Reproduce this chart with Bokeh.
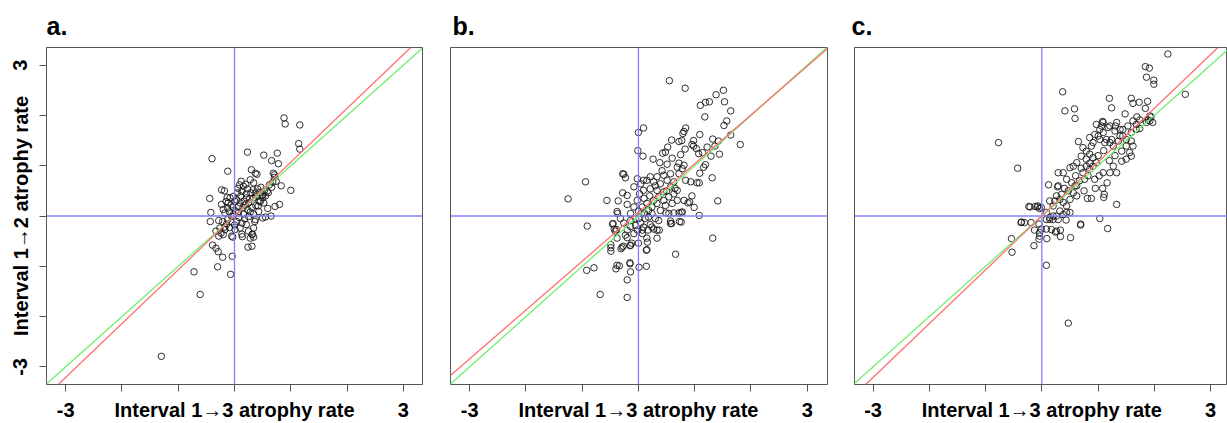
from bokeh.plotting import figure
from bokeh.layouts import row
from bokeh.models import FixedTicker, Span, Slope, AllLabels
from bokeh.embed import file_html
from bokeh.resources import INLINE

# ---------------- data ----------------
panel_titles = ["a.", "b.", "c."]
x_axis_label = "Interval 1\u21923 atrophy rate"
y_axis_label = "Interval 1\u21922 atrophy rate"
tick_values = [-3, -2, -1, 0, 1, 2, 3]

a_x = [0.88, 0.90, 1.16, 1.14, 1.16, 0.23, -0.40, 0.52, 0.76, 0.66, 0.78, -0.12, 0.30, 0.37, 0.40, 0.69, 0.71, 1.00, 0.83, 0.74,
       0.80, 0.72, 0.65, 0.50, -0.44, -0.42, -0.43, -0.23, -0.18, -0.13, -0.33, -0.28, -0.39, -0.33, -0.29, -0.21, -0.04, -0.30, -0.07, -0.72,
       -0.61, -1.30, 0.24, 0.31, 0.34, 0.32, 0.36, 0.14, -0.03, 0.10, 0.50, 0.58, 0.46, 0.52, 0.59, 0.55,
       0.12, 0.28, 0.34, 0.09, 0.16, 0.23, 0.41, 0.47, 0.53, 0.62, 0.68, 0.71, 0.66, 0.60, 0.50, 0.44, 0.38, 0.55, 0.47, 0.37, 0.29, 0.21,
       0.13, 0.05, -0.02, -0.08, -0.15, -0.11, 0.04, 0.10, 0.17, 0.25, 0.31, 0.23, 0.15, 0.07, -0.03, -0.12, -0.20, -0.23, -0.17, -0.09,
       -0.02, 0.07, 0.16, 0.25, 0.34, 0.43, 0.37, -0.28, -0.21, -0.12, -0.05, 0.04, 0.13, 0.21, 0.01, -0.09, -0.17, -0.26, -0.05, 0.13,
       0.25, 0.34, -0.20, 0.31, 0.28, 0.01, -0.05, 0.21, 0.34, 0.40, -0.24, -0.17,
       0.02, 0.08, 0.19, 0.27, 0.33, 0.45, 0.11, -0.06, 0.06, 0.20, -0.14, 0.18, 0.28, 0.42, 0.00]
a_y = [1.95, 1.83, 1.81, 1.44, 1.33, 1.27, 1.14, 1.21, 1.25, 1.10, 1.04, 0.89, 0.92, 0.85, 0.83, 0.85, 0.82, 0.51, 0.60, 0.69,
       0.23, 0.19, 0.00, -0.04, 0.35, 0.07, -0.11, 0.52, 0.50, 0.37, -0.30, -0.40, -0.58, -0.64, -0.71, -0.82, -0.80, -1.01, -1.16, -1.11,
       -1.56, -2.79, -0.62, -0.60, -0.42, -0.36, -0.11, -0.41, -0.42, -0.24, 0.42, 0.49, 0.29, 0.26, 0.15, -0.02,
       0.69, 0.72, 0.66, 0.62, 0.59, 0.54, 0.54, 0.57, 0.50, 0.62, 0.67, 0.77, 0.57, 0.46, 0.36, 0.29, 0.21, 0.40, 0.40, 0.46, 0.46, 0.44,
       0.49, 0.46, 0.39, 0.36, 0.29, 0.26, 0.32, 0.26, 0.29, 0.26, 0.17, 0.13, 0.16, 0.19, 0.17, 0.16, 0.13, 0.23, 0.06, 0.08,
       0.03, 0.06, 0.04, -0.01, 0.04, 0.09, -0.07, -0.09, -0.11, -0.07, -0.12, -0.11, -0.14, -0.17, -0.27, -0.23, -0.27, -0.24, -0.40, -0.36,
       -0.30, -0.24, -0.37, -0.37, -0.44, 0.29, -0.01, 0.36, 0.36, 0.39, -0.34, -0.22,
       0.10, -0.03, 0.22, 0.35, 0.52, 0.47, 0.40, 0.22, 0.55, 0.63, -0.16, -0.06, 0.08, 0.20, -0.18]

b_x = [0.55, 0.83, 1.51, 1.38, 1.53, 1.10, 1.19, 1.26, 1.64, 1.18, 1.57, 1.52, 1.64, 1.81, 0.09, 0.00, 0.84, 0.81, 0.79, 0.77,
       0.59, 0.72, 0.98, 1.09, 1.32, 1.42, 1.36, 1.44, 1.29, 1.22, 0.98, 0.95, 1.03, 0.83, 0.52, 0.48, 0.43, 0.75, -0.01, 0.08,
       0.26, 0.38, 0.51, 0.72, 0.81, 1.07, 1.14, 1.19, 1.16, 1.09, 1.31, 1.04, 1.08, 0.93, 0.84, 0.95, 0.88, 0.91, 0.99, 1.08,
       1.41, 1.32, 0.66, 0.76, 0.73, 0.57, 0.59, 0.49, 0.37, 0.33, 0.27, 0.15, 0.14, 0.01, -0.15, -0.14, -0.20, -0.20, -0.68, -0.92,
       -0.79, -0.40, -0.34, -0.49, -0.49, -0.49, -0.31, -0.27, -0.15, -0.12, 0.00, 0.15, 0.16, -1.25, -0.94, -0.91, -0.56, -0.36, -0.28, -0.20,
       -0.28, -0.23, -0.38, -0.37, -0.20, -0.46, -0.43, -0.39, -0.38,
       -0.20, -0.23, -0.14, -0.08, 0.07, 0.09, 0.04, 0.21, 0.30, 0.11, 0.18, 0.24, 0.33, 0.45, 0.54, 0.63, 0.69, 0.57, 0.45, 0.36,
       0.27, 0.15, 0.07, -0.02, -0.08, 0.04, 0.15, 0.27, 0.39, 0.51, 0.63, 0.72, 0.78, 0.69, 0.57, 0.45, 0.33, 0.21, 0.09, -0.02,
       0.02, 0.09, 0.21, 0.33, -0.14, -0.08, 0.01, 0.12, 0.24, 0.39, 0.48, 0.60, 0.69, 0.81, 0.07, -0.02, -0.14, -0.26, -0.32,
       0.17, 0.24, 0.33, 0.36, 0.18, -0.05, 0.57, 0.76, 0.54, 0.63, 0.72, 0.78, -0.45, -0.41, -0.29, -0.20, -0.14, 0.14, -0.15, -0.38,
       -0.26, 0.05, 0.10, 0.30, 0.42, 0.60, 0.65, 0.50, 0.00, -0.05, 0.20]
b_y = [2.69, 2.54, 2.50, 2.41, 2.27, 2.20, 2.26, 2.27, 2.09, 1.97, 1.89, 1.80, 1.61, 1.42, 1.75, 1.66, 1.75, 1.68, 1.64, 1.50,
       1.51, 1.48, 1.50, 1.62, 1.53, 1.49, 1.39, 1.23, 1.19, 1.37, 1.39, 1.42, 1.34, 1.33, 1.37, 1.27, 1.25, 1.22, 1.30, 1.19,
       1.13, 1.06, 1.03, 1.05, 1.01, 1.24, 1.26, 1.02, 0.97, 0.85, 0.76, 0.66, 0.66, 0.68, 0.71, 0.40, 0.26, 0.28, 0.17, 0.01,
       0.30, -0.44, -0.76, 0.07, -0.11, -0.10, -0.15, 0.06, -0.28, -0.44, -0.26, -0.67, -1.00, -1.02, -0.95, -1.11, -1.27, -1.62, -1.56, -1.08,
       -1.03, -1.05, -0.99, -0.63, -0.57, -0.70, -0.65, -0.60, -0.59, -0.54, -0.54, -0.44, -0.52, 0.34, 0.68, -0.20, 0.31, 0.30, 0.46, 0.41,
       0.84, 0.76, 0.09, 0.05, 0.23, -0.16, -0.26, -0.27, -0.44,
       -0.28, -0.38, -0.21, -0.35, -0.28, -0.22, -0.14, -0.17, -0.05, 0.05, 0.11, 0.18, 0.25, 0.31, 0.38, 0.44, 0.51, 0.58, 0.48, 0.38,
       0.31, 0.25, 0.18, 0.31, 0.58, 0.64, 0.71, 0.68, 0.64, 0.71, 0.68, 0.84, 0.94, 0.97, 0.84, 0.81, 0.78, 0.78, 0.71, 0.74,
       0.44, 0.51, 0.54, 0.51, 0.05, 0.18, -0.05, -0.05, 0.05, 0.11, 0.21, 0.25, 0.31, 0.31, -0.35, -0.28, -0.09, -0.14, -0.05,
       -0.28, -0.22, -0.28, -0.09, -0.02, -0.19, -0.15, -0.12, 0.05, 0.06, 0.06, 0.08, -0.15, -0.30, -0.62, -0.43, -0.58, -0.68, -0.93, -0.98,
       0.83, 0.05, 0.35, 0.60, 0.90, 1.15, 0.55, 0.50, 0.10, -0.05, 0.40]

c_x = [2.24, 1.84, 1.91, 1.86, 1.99, 1.99, 2.55, 0.37, 0.41, 0.58, 0.59, 1.20, 1.24, 1.59, 1.62, 1.73, 1.88, 1.84, 1.48, 1.69,
       1.92, 1.89, 1.97, 1.74, -0.77, -0.43, 0.12, 0.28, 0.29, 0.38, -0.23, -0.08, -0.04, -0.37, -0.31, -0.19, -0.13, -0.05, -0.01, 0.08,
       0.14, 0.24, 0.33, 0.51, 0.43, 0.69, 0.69, 1.03, 1.17, 1.33, -0.54, -0.53, -0.14, -0.05, -0.04, 0.08, 0.47, 0.81, 0.88, 1.10,
       1.11, 1.08, 1.16,
       0.94, 1.02, 1.09, 1.21, 1.33, 1.27, 1.42, 1.50, 1.59, 1.56, 1.42, 1.27, 1.21, 1.15, 1.09, 1.03, 0.97, 1.09, 1.21, 1.33,
       1.39, 1.44, 1.50, 1.59, 1.62, 1.50, 1.36, 0.65, 0.73, 0.79, 0.85, 0.91, 0.70, 0.62, 0.56, 0.50, 0.44, 0.53, 0.62, 0.73,
       0.79, 0.85, 0.91, 0.97, 0.79, 0.88, 0.94, 1.00, 1.06, 0.26, 0.32, 0.38, 0.44, 0.50, 0.56, 0.62, 0.14, 0.20, 0.32, 0.44,
       0.08, -0.01, 0.20, 0.29, 0.38, 0.50, 0.23, 0.35, 0.47, 0.59, 0.67, 0.76, 0.82,
       1.18, 1.30, 1.31, 1.44, 1.53, 1.62, 1.68, 1.74, 1.94, 1.92, 0.85, 0.91, 1.03, 1.12, 1.24, 1.39, 1.59, 1.68, 1.86, 1.08,
       0.29, -0.21, -0.12, -0.07, -0.36, -0.04, 0.09, 0.17, 0.26, 0.33, 0.08, 0.14, 0.20, 0.26,
       0.70, 0.85, 1.00, 1.10, 0.60, 0.40, 0.95, 1.20, 1.30, 0.75]
c_y = [3.22, 2.97, 2.94, 2.76, 2.70, 2.62, 2.42, 2.47, 2.09, 2.13, 1.94, 2.34, 2.15, 2.34, 2.24, 2.26, 2.28, 2.14, 2.03, 1.97,
       1.99, 1.91, 1.86, 1.74, 1.46, 0.95, 0.62, 0.58, 0.86, 0.86, 0.19, 0.18, 0.15, -0.13, -0.13, -0.13, -0.28, -0.16, -0.26, -0.26,
       -0.07, -0.32, -0.41, -0.43, -0.08, -0.16, -0.18, -0.05, -0.25, 0.23, -0.45, -0.72, -0.59, -0.46, -0.40, -0.98, -2.13, 0.35, 0.35, 0.37,
       0.43, 0.55, 0.66,
       0.73, 0.80, 0.86, 0.86, 0.86, 0.99, 1.09, 1.13, 1.19, 1.26, 1.29, 1.39, 1.46, 1.52, 1.66, 1.72, 1.82, 1.86, 1.79, 1.86,
       1.72, 1.59, 1.52, 1.49, 1.39, 1.39, 1.49, 1.48, 1.36, 1.29, 1.23, 1.16, 1.19, 1.06, 0.99, 0.96, 0.73, 0.66, 0.60, 0.86,
       0.99, 0.93, 0.99, 1.06, 1.13, 1.39, 1.62, 1.59, 1.79, 0.40, 0.33, 0.27, 0.20, 0.33, 0.46, 0.40, 0.30, 0.20, 0.10, 0.07,
       0.07, 0.17, 0.00, -0.07, 0.03, 0.07, 0.30, 0.43, 0.50, 0.60, 0.70, 0.73, 0.80,
       1.76, 1.69, 1.79, 1.72, 1.79, 1.89, 1.82, 1.91, 1.97, 1.89, 1.56, 1.46, 1.52, 1.46, 1.52, 1.59, 1.66, 1.72, 1.86, 1.88,
       0.60, 0.18, 0.19, 0.20, -0.12, -0.33, -0.45, -0.27, -0.30, -0.28, -0.07, -0.03, -0.07, 0.00,
       0.95, 1.05, 1.20, 1.30, 0.80, 0.55, 0.55, 1.10, 1.20, 0.50]

fit_gradient = [1.07, 0.97, 1.07]
fit_intercept = [0.00, 0.07, 0.00]

# ---------------- styling / layout ----------------
FONT = "Liberation Sans"
X_RANGES = [(-3.34, 3.34), (-3.34, 3.36), (-3.33, 3.30)]
Y_RANGE = (-3.35, 3.35)
WIDTHS = [430, 404, 393]
BORDER_L = [46, 20, 20]
BORDER_R = [8, 7, 0]
TITLE_OFFSET = [0, 2, -3]


def make_panel(i, xs, ys, show_y):
    p = figure(width=WIDTHS[i], height=423, x_range=X_RANGES[i], y_range=Y_RANGE,
               output_backend="svg", toolbar_location=None,
               min_border_left=BORDER_L[i], min_border_right=BORDER_R[i],
               min_border_top=47, min_border_bottom=39, title=panel_titles[i])
    p.background_fill_color = "white"
    p.border_fill_color = "white"
    p.outline_line_color = "#555555"
    p.outline_line_width = 1
    p.xgrid.visible = False
    p.ygrid.visible = False

    p.title.align = "left"
    p.title.vertical_align = "top"
    p.title.offset = TITLE_OFFSET[i]
    p.title.text_font = FONT
    p.title.text_font_style = "bold"
    p.title.text_font_size = "25px"
    p.title.text_color = "black"
    p.title.standoff = 12

    labels_x = {t: "" for t in tick_values}
    labels_x[-3] = "-3"
    labels_x[3] = "3"
    labels_x[0] = x_axis_label
    ax = p.xaxis[0]
    ax.ticker = FixedTicker(ticks=tick_values)
    ax.major_label_overrides = labels_x
    ax.major_label_policy = AllLabels()
    ax.axis_line_color = None
    ax.major_tick_line_color = "#555555"
    ax.major_tick_in = 0
    ax.major_tick_out = 7
    ax.minor_tick_line_color = None
    ax.major_label_standoff = 7
    ax.major_label_text_font = FONT
    ax.major_label_text_font_style = "bold"
    ax.major_label_text_font_size = "20px"
    ax.major_label_text_color = "black"

    ay = p.yaxis[0]
    if show_y:
        labels_y = {t: "" for t in tick_values}
        labels_y[-3] = "-3"
        labels_y[3] = "3"
        labels_y[0] = y_axis_label
        ay.ticker = FixedTicker(ticks=tick_values)
        ay.major_label_overrides = labels_y
        ay.major_label_policy = AllLabels()
        ay.major_label_orientation = "vertical"
        ay.axis_line_color = None
        ay.major_tick_line_color = "#555555"
        ay.major_tick_in = 0
        ay.major_tick_out = 7
        ay.minor_tick_line_color = None
        ay.major_label_standoff = 8
        ay.major_label_text_font = FONT
        ay.major_label_text_font_style = "bold"
        ay.major_label_text_font_size = "20px"
        ay.major_label_text_color = "black"
    else:
        ay.visible = False

    p.scatter(xs, ys, marker="circle", size=6.5, fill_color=None,
              line_color="#1a1a1a", line_alpha=0.9, line_width=1)

    p.add_layout(Span(location=0, dimension="height", line_color="#8080ff", line_width=1.3))
    p.add_layout(Span(location=0, dimension="width", line_color="#8080ff", line_width=1.3))
    p.add_layout(Slope(gradient=1, y_intercept=0, line_color="#70ee70", line_width=1.3))
    p.add_layout(Slope(gradient=fit_gradient[i], y_intercept=fit_intercept[i],
                       line_color="#ff7070", line_width=1.3))
    return p


pa = make_panel(0, a_x, a_y, True)
pb = make_panel(1, b_x, b_y, False)
pc = make_panel(2, c_x, c_y, False)

layout = row(pa, pb, pc, spacing=0)
open("out.html", "w").write(file_html(layout, INLINE))
